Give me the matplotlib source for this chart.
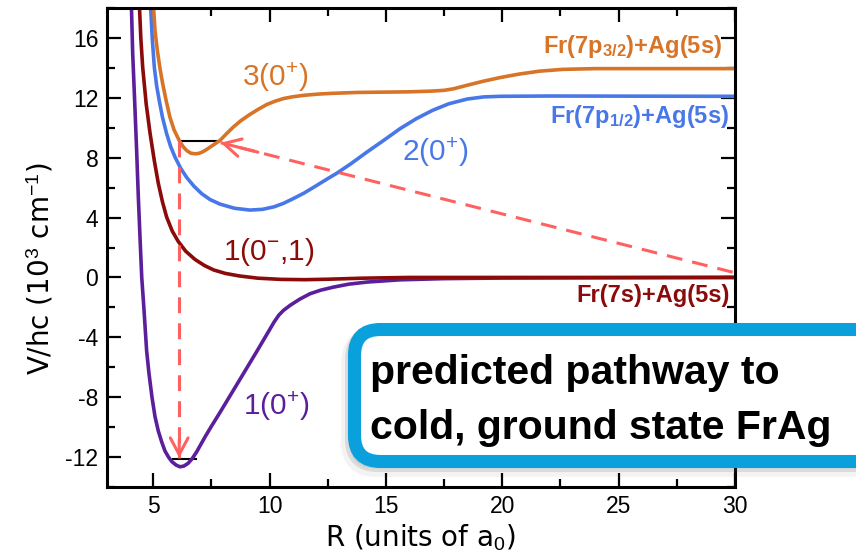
import matplotlib
matplotlib.use('Agg')
import matplotlib.pyplot as plt
from matplotlib.patches import FancyBboxPatch
from matplotlib.ticker import MultipleLocator

plt.rcParams['font.family'] = ['Liberation Sans', 'DejaVu Sans']
plt.rcParams['mathtext.fontset'] = 'custom'
plt.rcParams['mathtext.rm'] = 'Liberation Sans'
plt.rcParams['mathtext.it'] = 'Liberation Sans:italic'
plt.rcParams['mathtext.bf'] = 'Liberation Sans:bold'
plt.rcParams['axes.unicode_minus'] = False

# potential curves: R (a0) vs V/hc (10^3 cm^-1)
# 1(0+)
r_1p = [4.06, 4.12, 4.2, 4.29, 4.36, 4.44, 4.51, 4.6, 4.72, 4.82, 4.95, 5.08, 5.22, 5.37,
        5.51, 5.66, 5.8, 5.98, 6.15, 6.32, 6.5, 6.68, 6.87, 7.05, 7.25, 7.5, 7.84, 8.52,
        9.45, 10.0, 10.2, 10.4, 10.6, 10.88, 11.3, 11.74, 12.2, 12.74, 13.4, 14.18, 15.6,
        17.5, 20.0, 30.0]
v_1p = [18.5, 15.0, 12.0, 8.5, 5.5, 2.5, 0.0, -2.0, -4.9, -6.4, -8.0, -9.3, -10.25, -11.0,
        -11.6, -12.0, -12.3, -12.53, -12.65, -12.6, -12.42, -12.1, -11.65, -11.15, -10.6, -9.95, -9.1, -7.35,
        -4.95, -3.5, -2.97, -2.52, -2.2, -1.87, -1.45, -1.09, -0.85, -0.65, -0.45, -0.31, -0.16,
        -0.08, -0.04, 0.0]

# 1(0-,1)
r_1m = [4.4, 4.47, 4.55, 4.7, 4.87, 5.05, 5.22, 5.4, 5.58, 5.82, 6.08, 6.4, 6.8, 7.2, 7.6,
        8.1, 8.7, 9.5, 10.5, 11.5, 12.5, 14.0, 16.0, 30.0]
v_1m = [18.5, 16.0, 14.05, 11.6, 9.6, 7.8, 6.3, 5.05, 4.03, 3.1, 2.4, 1.75, 1.2, 0.8, 0.5,
        0.27, 0.1, -0.05, -0.13, -0.15, -0.12, -0.05, 0.0, 0.0]

# 2(0+)
r_2p = [4.88, 4.96, 5.05, 5.15, 5.26, 5.4, 5.58, 5.75, 5.94, 6.18, 6.44, 6.75, 7.09, 7.45,
        7.87, 8.5, 9.16, 9.7, 10.2, 10.6, 11.0, 11.5, 12.03, 12.5, 12.9, 13.5, 14.18, 14.9,
        15.6, 16.3, 17.0, 17.7, 18.5, 19.2, 19.9, 22.0, 30.0]
v_2p = [18.5, 16.0, 14.05, 12.8, 11.83, 10.7, 9.6, 8.75, 8.04, 7.3, 6.68, 6.1, 5.59, 5.2,
        4.9, 4.62, 4.5, 4.55, 4.72, 4.95, 5.25, 5.65, 6.15, 6.6, 6.97, 7.6, 8.37, 9.15,
        9.93, 10.6, 11.16, 11.6, 11.92, 12.06, 12.1, 12.12, 12.1]

# 3(0+)
r_3p = [5.0, 5.08, 5.18, 5.3, 5.41, 5.56, 5.72, 5.9, 6.12, 6.28, 6.44, 6.62, 6.8, 6.95,
        7.1, 7.27, 7.44, 7.65, 7.87, 8.15, 8.44, 8.75, 9.09, 9.48, 9.88, 10.25, 10.6, 11.0,
        11.5, 12.1, 12.7, 13.8, 14.9, 16.0, 17.0, 17.5, 17.9, 18.47, 19.19, 19.9, 20.7,
        21.6, 22.6, 24.0, 30.0]
v_3p = [18.5, 16.5, 15.16, 13.9, 12.94, 11.8, 10.71, 9.85, 9.15, 8.75, 8.48, 8.3, 8.26, 8.28,
        8.37, 8.52, 8.7, 8.92, 9.15, 9.6, 10.04, 10.45, 10.82, 11.2, 11.55, 11.78, 11.95, 12.07,
        12.17, 12.25, 12.3, 12.36, 12.38, 12.4, 12.45, 12.5, 12.6, 12.83, 13.11, 13.35, 13.58,
        13.78, 13.9, 13.95, 13.95]

# vibrational levels (black bars)
lvl_up_r = [6.2, 7.86]
lvl_up_v = [9.1, 9.1]
lvl_lo_r = [5.86, 6.86]
lvl_lo_v = [-12.16, -12.16]

# pathway arrows (start, tip)
pump_start = (29.9, 0.35)
pump_tip = (7.9, 9.0)
dump_start = (6.12, 9.1)
dump_tip = (6.12, -12.05)

PURPLE = '#5b1f9c'
DARKRED = '#8b0a0a'
BLUE = '#4878e8'
ORANGE = '#d87428'
RED = '#ff6060'
CYAN = '#0aa0dc'

fig = plt.figure(figsize=(8.56, 5.55), dpi=100)
ax = fig.add_axes([106.6 / 856, 1 - 487 / 555, (735 - 106.6) / 856, (487 - 8) / 555])

lw = 2.6
ax.plot(lvl_up_r, lvl_up_v, color='black', lw=1.5)
ax.plot(lvl_lo_r, lvl_lo_v, color='black', lw=1.5)
for r, v, c in [(r_1p, v_1p, PURPLE), (r_1m, v_1m, DARKRED), (r_2p, v_2p, BLUE), (r_3p, v_3p, ORANGE)]:
    ax.plot(r, v, color=c, lw=lw, solid_joinstyle='round')

# dashed pathway
dash = (0, (5.2, 3.3))
ax.plot([dump_start[0], dump_tip[0]], [dump_start[1], dump_tip[1]], color=RED, lw=2.2, ls=dash)
ax.plot([pump_start[0], pump_tip[0]], [pump_start[1], pump_tip[1]], color=RED, lw=2.2, ls=dash)
head = dict(arrowstyle='->,head_length=0.6,head_width=0.32', color=RED, lw=2.2,
            shrinkA=0, shrinkB=0, mutation_scale=20)
ax.annotate('', xy=dump_tip, xytext=(dump_tip[0], dump_tip[1] + 1.2), arrowprops=head)
ax.annotate('', xy=pump_tip, xytext=(pump_tip[0] + 1.6, pump_tip[1] - 1.6 * 0.393), arrowprops=head)

# state labels
ax.text(8.8, 12.76, '3(0$^{+}$)', color=ORANGE, fontsize=21.5, va='baseline')
ax.text(15.68, 7.81, '2(0$^{+}$)', color=BLUE, fontsize=21.5, va='baseline')
ax.text(8.02, 1.14, '1(0$^{-}$,1)', color=DARKRED, fontsize=21.5, va='baseline')
ax.text(8.87, -9.22, '1(0$^{+}$)', color=PURPLE, fontsize=21.5, va='baseline')

ax.text(29.45, 14.98, r'Fr(7p$_{\mathbf{3/2}}$)+Ag(5s)', color=ORANGE, fontsize=17,
        fontweight='bold', ha='right', va='baseline')
ax.text(29.72, 10.31, r'Fr(7p$_{\mathbf{1/2}}$)+Ag(5s)', color=BLUE, fontsize=17,
        fontweight='bold', ha='right', va='baseline')
ax.text(29.76, -1.65, 'Fr(7s)+Ag(5s)', color=DARKRED, fontsize=17,
        fontweight='bold', ha='right', va='baseline')

ax.set_xlim(3, 30)
ax.set_ylim(-14, 18)
ax.xaxis.set_major_locator(MultipleLocator(5))
ax.xaxis.set_minor_locator(MultipleLocator(2.5))
ax.yaxis.set_major_locator(MultipleLocator(4))
ax.yaxis.set_minor_locator(MultipleLocator(2))
ax.tick_params(which='both', direction='in', top=True, right=True, width=1.6, labelsize=16.5)
ax.tick_params(which='major', length=10, pad=6)
ax.tick_params(which='minor', length=6)
for s in ax.spines.values():
    s.set_linewidth(2.2)

ax.set_xlabel('R (units of a$_{0}$)', fontsize=20, family='DejaVu Sans', labelpad=3)
ax.set_ylabel('V/hc (10$^{3}$ cm$^{-1}$)', fontsize=20, family='DejaVu Sans')
ax.yaxis.set_label_coords(-0.082, 0.455)

# callout box drawn in pixel space
ov = fig.add_axes([0, 0, 1, 1])
ov.set_xlim(0, 856)
ov.set_ylim(555, 0)
ov.axis('off')

for dx, dy, a, w in [(-5, 7, 0.07, 12), (-3, 4, 0.15, 9.4)]:
    ov.add_patch(FancyBboxPatch((354.5 + dx, 329.5 + dy), 600, 132,
                                boxstyle='round,pad=0,rounding_size=26',
                                fc='#555555', ec='#555555', lw=w, alpha=a))
ov.add_patch(FancyBboxPatch((354.5, 329.5), 600, 132,
                            boxstyle='round,pad=0,rounding_size=26',
                            fc='white', ec=CYAN, lw=9.4))
ov.text(370, 384, 'predicted pathway to', fontsize=29.5, fontweight='bold', va='baseline')
ov.text(370, 439, 'cold, ground state FrAg', fontsize=29.5, fontweight='bold', va='baseline')

fig.savefig('out.png', dpi=100)
